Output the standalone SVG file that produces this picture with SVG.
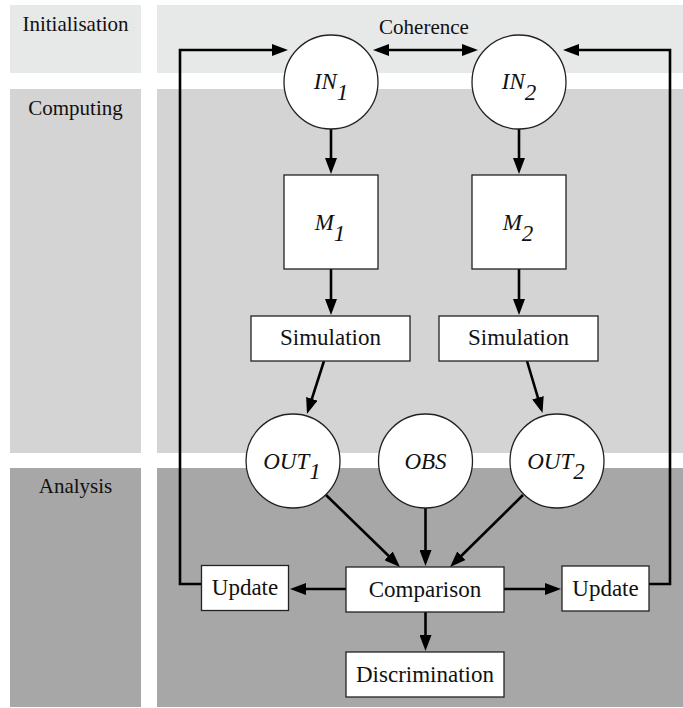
<svg xmlns="http://www.w3.org/2000/svg" width="683" height="708" viewBox="0 0 683 708">
<style>
.band1{fill:#e7e8e8}
.band2{fill:#d4d4d4}
.band3{fill:#a7a7a7}
text{font-family:'Liberation Serif','Tinos','DejaVu Serif',serif;fill:#111;text-anchor:middle}
.lbl{font-size:21px}
.txt{font-size:23px}
.it{font-size:23px;font-style:italic}
.node{fill:#fff;stroke:#222;stroke-width:1.3}
.edge{fill:none;stroke:#000;stroke-width:2.6;marker-end:url(#ah)}
</style>
<defs>
<marker id="ah" markerWidth="16" markerHeight="12" refX="10" refY="6" orient="auto-start-reverse" markerUnits="userSpaceOnUse">
<path d="M0,0 L16,6 L0,12 z" fill="#000"/>
</marker>
</defs>
<g id="bands">
<rect class="band1" x="10" y="5" width="131" height="68"/>
<rect class="band1" x="157" y="5" width="526" height="68"/>
<rect class="band2" x="10" y="89" width="131" height="364"/>
<rect class="band2" x="157" y="89" width="526" height="364"/>
<rect class="band3" x="10" y="468" width="131" height="239"/>
<rect class="band3" x="157" y="468" width="526" height="239"/>
<text class="lbl" x="75.5" y="30.5" font-family="Liberation Serif, serif">Initialisation</text>
<text class="lbl" x="75.5" y="115" font-family="Liberation Serif, serif">Computing</text>
<text class="lbl" x="75.5" y="493" font-family="Liberation Serif, serif">Analysis</text>
</g>
<g id="connectors">
<polyline class="edge" points="201,584 180,584 180,50 282,50"/>
<polyline class="edge" points="649,584 670,584 670,50 569,50"/>
<line class="edge" x1="379" y1="50" x2="472" y2="50" marker-start="url(#ah)"/>
<line class="edge" x1="331" y1="129" x2="331" y2="168"/>
<line class="edge" x1="519" y1="129" x2="519" y2="168"/>
<line class="edge" x1="331" y1="269" x2="331" y2="309"/>
<line class="edge" x1="519" y1="269" x2="519" y2="309"/>
<line class="edge" x1="324" y1="361" x2="308.8" y2="408.3"/>
<line class="edge" x1="527" y1="361" x2="540.8" y2="407.3"/>
<line class="edge" x1="326" y1="495" x2="395.7" y2="562.8"/>
<line class="edge" x1="425.5" y1="508" x2="425.5" y2="560"/>
<line class="edge" x1="523" y1="495" x2="454.3" y2="562.8"/>
<line class="edge" x1="346" y1="589" x2="296" y2="589"/>
<line class="edge" x1="504" y1="589" x2="555" y2="589"/>
<line class="edge" x1="425.5" y1="612" x2="425.5" y2="645"/>
</g>
<text class="lbl" x="424" y="34.3">Coherence</text>
<g id="in1"><circle class="node" cx="331" cy="82" r="47"/><text class="it" x="331" y="89">IN<tspan dy="11">1</tspan></text></g>
<g id="in2"><circle class="node" cx="519" cy="82" r="47"/><text class="it" x="519" y="89">IN<tspan dy="11">2</tspan></text></g>
<g id="m1"><rect class="node" x="284" y="175" width="94" height="94"/><text class="it" x="330" y="230">M<tspan dy="11">1</tspan></text></g>
<g id="m2"><rect class="node" x="472" y="175" width="94" height="94"/><text class="it" x="518" y="230">M<tspan dy="11">2</tspan></text></g>
<g id="sim1"><rect class="node" x="251" y="316" width="159" height="45"/><text class="txt" x="330.5" y="345">Simulation</text></g>
<g id="sim2"><rect class="node" x="439" y="316" width="159" height="45"/><text class="txt" x="518.5" y="345">Simulation</text></g>
<g id="out1"><circle class="node" cx="293" cy="461" r="47"/><text class="it" x="292" y="469">OUT<tspan dy="10">1</tspan></text></g>
<g id="obs"><circle class="node" cx="425.5" cy="461" r="47"/><text class="it" x="425.5" y="469">OBS</text></g>
<g id="out2"><circle class="node" cx="557" cy="461" r="47"/><text class="it" x="556" y="469">OUT<tspan dy="10">2</tspan></text></g>
<g id="update1"><rect class="node" x="201.5" y="565.5" width="87" height="45"/><text class="txt" x="245" y="595">Update</text></g>
<g id="comparison"><rect class="node" x="346" y="567" width="158" height="45"/><text class="txt" x="425" y="597">Comparison</text></g>
<g id="update2"><rect class="node" x="562" y="566" width="87" height="45"/><text class="txt" x="605.5" y="596">Update</text></g>
<g id="discrimination"><rect class="node" x="346" y="652" width="158" height="45"/><text class="txt" x="425" y="682">Discrimination</text></g>
</svg>
